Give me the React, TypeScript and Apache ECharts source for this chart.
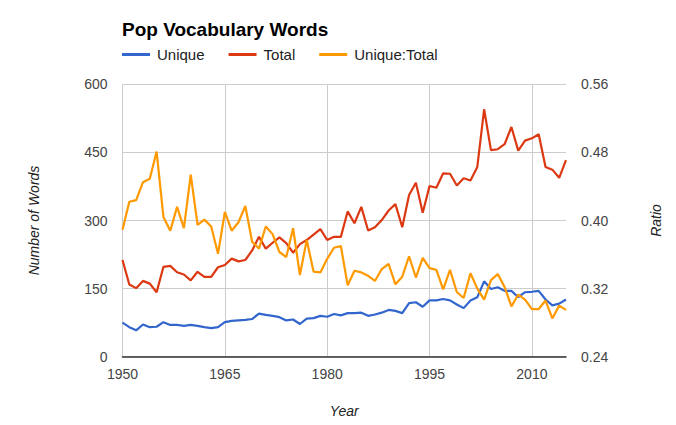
import React, { useEffect, useRef } from "react";
import * as echarts from "echarts";

const years: number[] = [];
for (let y = 1950; y <= 2015; y++) years.push(y);

const unique = [
  75, 65, 58, 71, 65, 66, 76, 70, 70, 68,
  70, 68, 65, 63, 65, 76, 79, 80, 81, 83,
  95, 92, 90, 87, 80, 82, 72, 84, 85, 90,
  88, 94, 91, 96, 96, 97, 90, 93, 97, 103,
  101, 96, 118, 120, 110, 124, 124, 127, 124, 115,
  107, 124, 131, 166, 149, 153, 145, 145, 131, 142,
  143, 145, 126, 113, 117, 126,
];

const total = [
  213, 159, 151, 167, 161, 142, 198, 200, 186, 181,
  168, 187, 176, 176, 197, 202, 216, 210, 213, 234,
  264, 238, 251, 263, 250, 229, 248, 257, 269, 281,
  257, 264, 264, 320, 294, 330, 278, 285, 301, 322,
  336, 285, 356, 383, 317, 376, 372, 404, 403, 377,
  393, 388, 418, 545, 455, 457, 468, 506, 454, 476,
  481, 490, 418, 412, 394, 433,
];

const ratio = [
  0.389, 0.422, 0.424, 0.445, 0.449, 0.481, 0.404, 0.388, 0.416, 0.391,
  0.454, 0.395, 0.401, 0.393, 0.361, 0.41, 0.388, 0.398, 0.417, 0.375,
  0.367, 0.393, 0.384, 0.363, 0.357, 0.391, 0.336, 0.377, 0.34, 0.339,
  0.355, 0.368, 0.37, 0.324, 0.341, 0.339, 0.335, 0.329, 0.343, 0.349,
  0.325, 0.334, 0.358, 0.333, 0.356, 0.344, 0.342, 0.319, 0.342, 0.316,
  0.309, 0.338, 0.32, 0.307, 0.33, 0.337, 0.322, 0.299, 0.313, 0.307,
  0.296, 0.296, 0.306, 0.285, 0.3, 0.295,
];

const seriesNames = ["Unique", "Total", "Unique:Total"];
const colors = ["#3366cc", "#dc3912", "#ff9900"];

const FONT = "Arial, 'Liberation Sans', sans-serif";

export default function App() {
  const ref = useRef<HTMLDivElement>(null);
  useEffect(() => {
    if (!ref.current) return;
    const chart = echarts.init(ref.current, undefined, { renderer: "svg" });
    const pair = (arr: number[]) => years.map((y, i) => [y, arr[i]]);
    chart.setOption({
      animation: false,
      color: colors,
      textStyle: { fontFamily: FONT },
      title: {
        text: "Pop Vocabulary Words",
        left: 122,
        top: 20,
        padding: 0,
        textStyle: { fontSize: 19, fontWeight: "bold", color: "#000", fontFamily: FONT },
      },
      legend: {
        data: seriesNames,
        left: 122,
        top: 47,
        padding: 0,
        icon: "rect",
        itemWidth: 28,
        itemHeight: 3,
        itemGap: 24,
        textStyle: { fontSize: 15, color: "#222", fontFamily: FONT, padding: [0, 0, 0, 2] },
      },
      grid: { left: 122.5, top: 84.3, width: 443.5, height: 272.4, containLabel: false },
      xAxis: {
        type: "value",
        min: 1950,
        max: 2015,
        interval: 15,
        name: "Year",
        nameLocation: "middle",
        nameGap: 47,
        nameTextStyle: { fontStyle: "italic", fontSize: 14, color: "#222", fontFamily: FONT },
        axisLine: { show: true, lineStyle: { color: "#333", width: 1.5 } },
        axisTick: { show: false },
        axisLabel: { fontSize: 14, color: "#444", margin: 10, showMaxLabel: false, formatter: (v: number) => String(v) },
        splitLine: { show: true, showMaxLine: false, lineStyle: { color: "#cccccc", width: 1 } },
      },
      yAxis: [
        {
          type: "value",
          min: 0,
          max: 600,
          interval: 150,
          name: "Number of Words",
          nameLocation: "middle",
          nameRotate: 90,
          nameGap: 82,
          nameTextStyle: { fontStyle: "italic", fontSize: 14, color: "#222", fontFamily: FONT },
          axisLine: { show: false },
          axisTick: { show: false },
          axisLabel: { fontSize: 14, color: "#444", margin: 15 },
          splitLine: { show: true, lineStyle: { color: "#cccccc", width: 1 } },
        },
        {
          type: "value",
          min: 0.24,
          max: 0.56,
          interval: 0.08,
          position: "right",
          name: "Ratio",
          nameLocation: "middle",
          nameRotate: 90,
          nameGap: 83,
          nameTextStyle: { fontStyle: "italic", fontSize: 14, color: "#222", fontFamily: FONT },
          axisLine: { show: false },
          axisTick: { show: false },
          axisLabel: { fontSize: 14, color: "#444", margin: 15, formatter: (v: number) => v.toFixed(2) },
          splitLine: { show: false },
        },
      ],
      series: [
        {
          name: seriesNames[0],
          type: "line",
          yAxisIndex: 0,
          data: pair(unique),
          showSymbol: false,
          lineStyle: { width: 2.2, color: colors[0] },
        },
        {
          name: seriesNames[1],
          type: "line",
          yAxisIndex: 0,
          data: pair(total),
          showSymbol: false,
          lineStyle: { width: 2.2, color: colors[1] },
        },
        {
          name: seriesNames[2],
          type: "line",
          yAxisIndex: 1,
          data: pair(ratio),
          showSymbol: false,
          lineStyle: { width: 2.2, color: colors[2] },
        },
      ],
    });
    return () => chart.dispose();
  }, []);
  return (
    <div
      ref={ref}
      style={{ position: "fixed", left: 0, top: 0, width: 676, height: 425, background: "#fff" }}
    />
  );
}
